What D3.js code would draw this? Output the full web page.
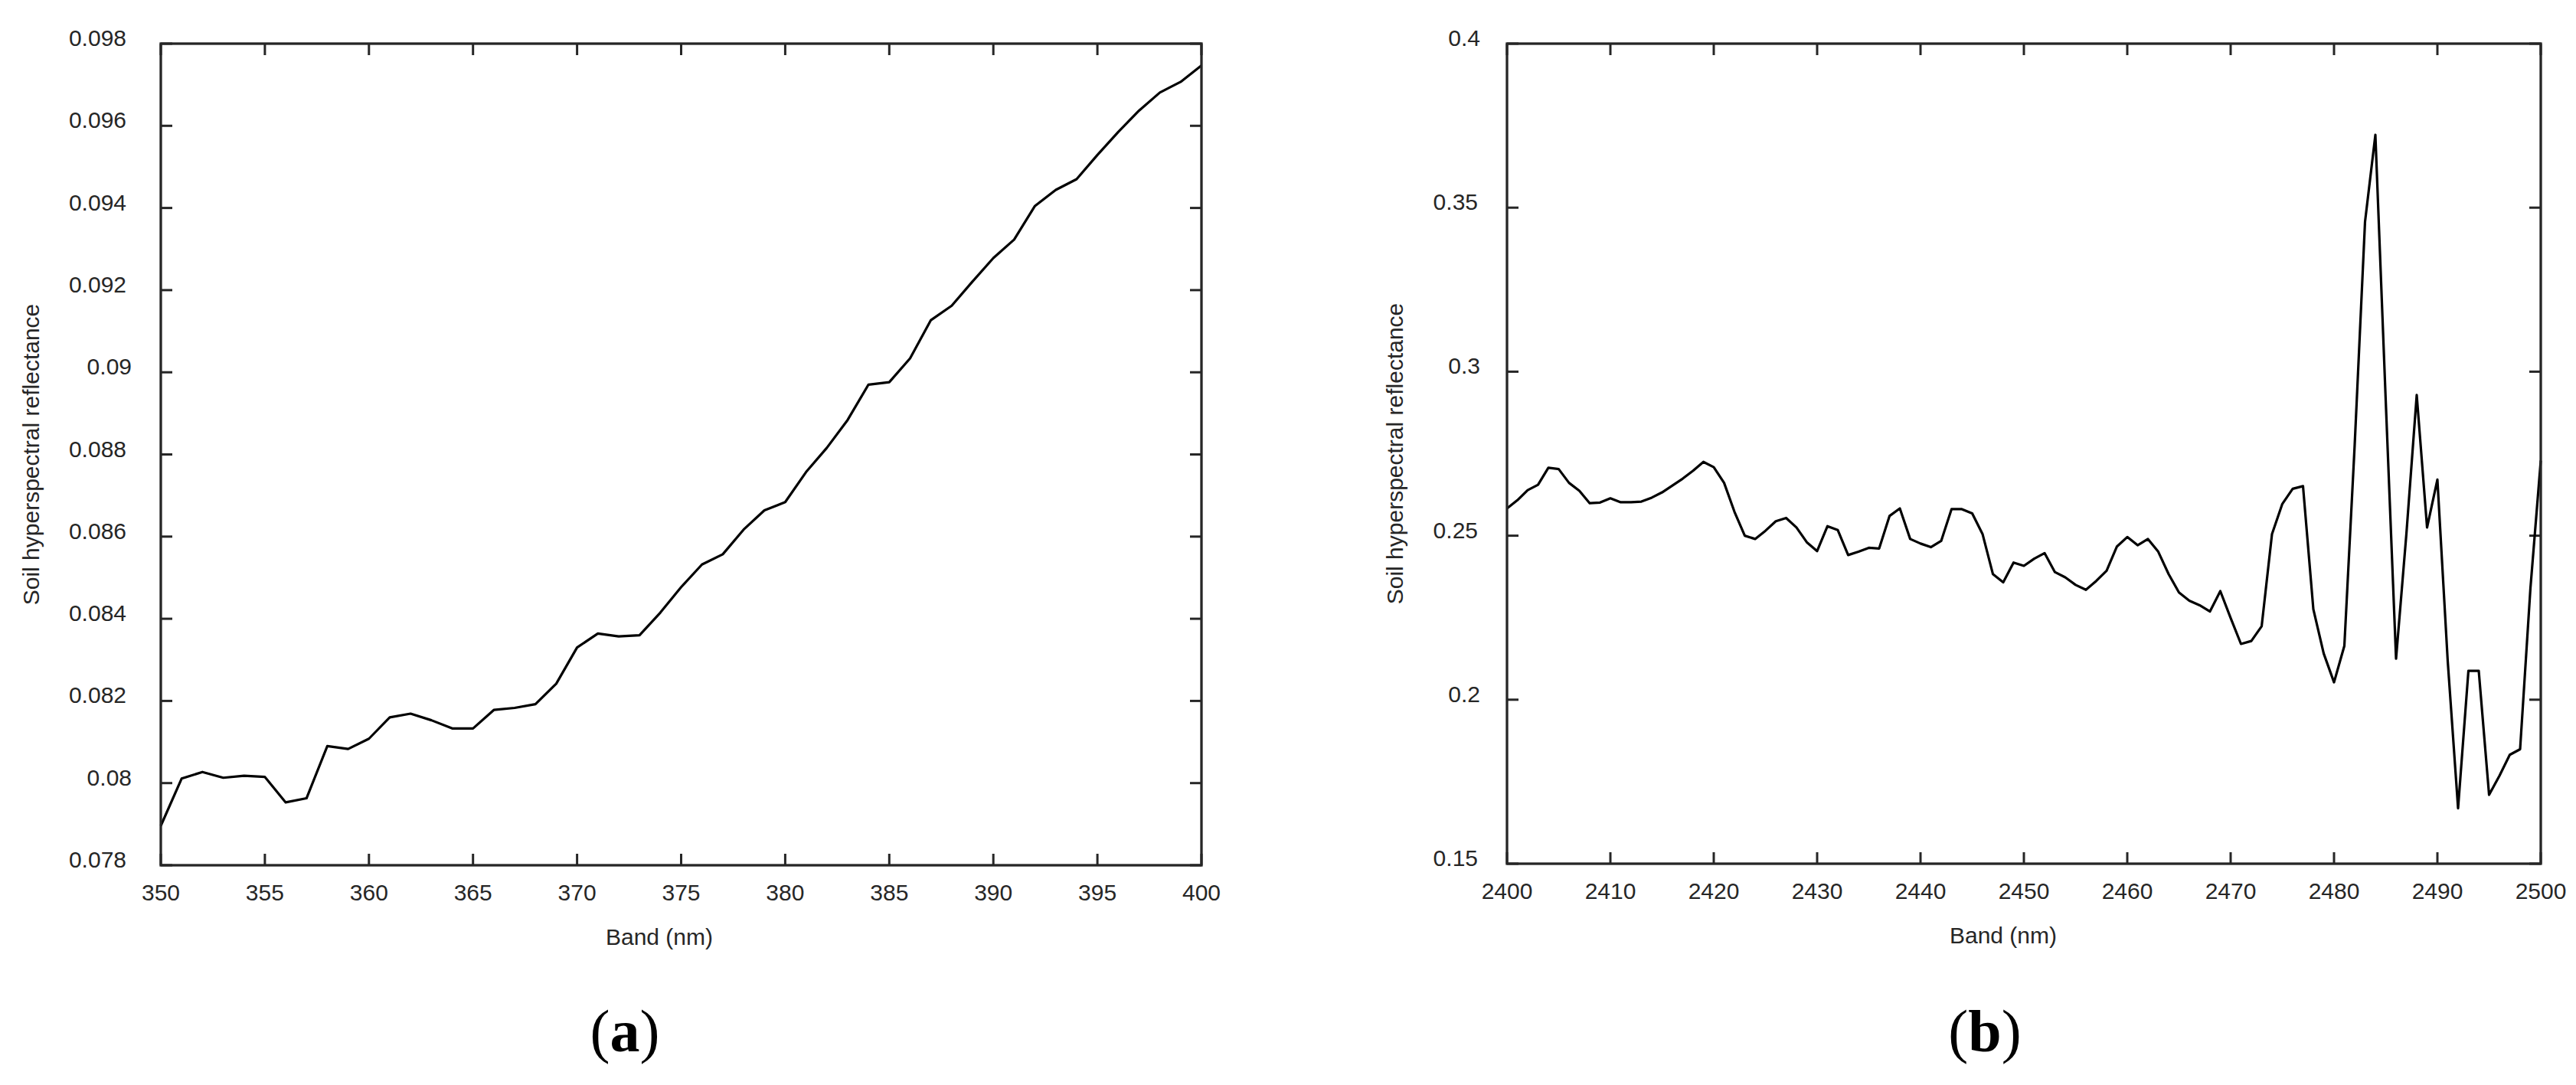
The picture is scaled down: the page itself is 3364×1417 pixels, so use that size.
<!DOCTYPE html>
<html>
<head>
<meta charset="utf-8">
<script src="https://cdn.jsdelivr.net/npm/d3@7"></script>
<style>
  html, body { margin: 0; padding: 0; background: #fff; }
  svg { display: block; }
  text { font-family: "Liberation Sans", Arial, sans-serif; fill: #262626; }
</style>
</head>
<body>
<svg id="chart" width="3364" height="1417"></svg>
<script>
// ---------- Data ----------
const bandsA = d3.range(350, 401, 1);
const reflA = [
  0.07896, 0.08011, 0.08027, 0.08013, 0.08018, 0.08015, 0.07953, 0.07963, 0.08090, 0.08083,
  0.08108, 0.08160, 0.08169, 0.08153, 0.08133, 0.08133, 0.08178, 0.08183, 0.08192, 0.08242,
  0.08330, 0.08364, 0.08357, 0.08360, 0.08415, 0.08477, 0.08532, 0.08557, 0.08617, 0.08664,
  0.08684, 0.08757, 0.08816, 0.08884, 0.08970, 0.08976, 0.09034, 0.09127, 0.09162, 0.09221,
  0.09278, 0.09323, 0.09405, 0.09444, 0.09470, 0.09529, 0.09585, 0.09637, 0.09681, 0.09707,
  0.09747
];
const xTicksA = [350, 355, 360, 365, 370, 375, 380, 385, 390, 395, 400];
const yTicksA = [0.078, 0.08, 0.082, 0.084, 0.086, 0.088, 0.09, 0.092, 0.094, 0.096, 0.098];

const bandsB = d3.range(2400, 2501, 1);
const reflB = [
  0.2583, 0.2608, 0.2639, 0.2655, 0.2707, 0.2703, 0.2661, 0.2637, 0.2599, 0.2601,
  0.2614, 0.2602, 0.2602, 0.2604, 0.2616, 0.2632, 0.2653, 0.2674, 0.2698, 0.2725,
  0.2709, 0.2661, 0.2573, 0.2500, 0.2490, 0.2515, 0.2544, 0.2554, 0.2525, 0.2480,
  0.2453, 0.2529, 0.2517, 0.2441, 0.2451, 0.2463, 0.2461, 0.2560, 0.2583, 0.2490,
  0.2476, 0.2465, 0.2484, 0.2581, 0.2581, 0.2568, 0.2505, 0.2383, 0.2358, 0.2418,
  0.2408, 0.2430, 0.2447, 0.2389, 0.2373, 0.2350, 0.2335, 0.2362, 0.2393, 0.2467,
  0.2496, 0.2471, 0.2490, 0.2451, 0.2383, 0.2327, 0.2302, 0.2288, 0.2269, 0.2331,
  0.2249, 0.2170, 0.2179, 0.2224, 0.2505, 0.2597, 0.2643, 0.2651, 0.2276, 0.2141,
  0.2053, 0.2164, 0.2777, 0.3457, 0.3722, 0.2913, 0.2125, 0.2505, 0.2929, 0.2525,
  0.2671, 0.2117, 0.1669, 0.2088, 0.2088, 0.1710, 0.1768, 0.1832, 0.1849, 0.2340,
  0.2729
];
const xTicksB = [2400, 2410, 2420, 2430, 2440, 2450, 2460, 2470, 2480, 2490, 2500];
const yTicksB = [0.15, 0.2, 0.25, 0.3, 0.35, 0.4];

const xLabel = "Band (nm)";
const yLabel = "Soil hyperspectral reflectance";
const panelLetters = ["a", "b"];

// ---------- Drawing ----------
const svg = d3.select("#chart");
const axisColor = "#262626";

function panel(cfg) {
  const { left, right, top, bottom, xs, ys, xDomain, yDomain, xTicks, yTicks,
          labelRight, shortShift, ylabelX, xlabelX, panelX, letter } = cfg;
  const x = d3.scaleLinear().domain(xDomain).range([left, right]);
  const y = d3.scaleLinear().domain(yDomain).range([bottom, top]);
  const g = svg.append("g");
  const tickLen = 15;

  // tick marks (inward, all four sides)
  const tg = g.append("g").attr("stroke", axisColor).attr("stroke-width", 3);
  xTicks.forEach(t => {
    tg.append("line").attr("x1", x(t)).attr("x2", x(t)).attr("y1", bottom).attr("y2", bottom - tickLen);
    tg.append("line").attr("x1", x(t)).attr("x2", x(t)).attr("y1", top).attr("y2", top + tickLen);
  });
  yTicks.forEach(t => {
    tg.append("line").attr("x1", left).attr("x2", left + tickLen).attr("y1", y(t)).attr("y2", y(t));
    tg.append("line").attr("x1", right).attr("x2", right - tickLen).attr("y1", y(t)).attr("y2", y(t));
  });

  // data line
  const line = d3.line().x((d, i) => x(xs[i])).y(d => y(d));
  g.append("path").datum(ys)
    .attr("fill", "none").attr("stroke", "#000").attr("stroke-width", 3.2)
    .attr("stroke-linejoin", "round")
    .attr("d", line);

  // box
  g.append("rect").attr("x", left).attr("y", top)
    .attr("width", right - left).attr("height", bottom - top)
    .attr("fill", "none").attr("stroke", axisColor).attr("stroke-width", 3.3);

  // tick labels
  xTicks.forEach(t => {
    g.append("text").attr("x", x(t)).attr("y", bottom + 46)
      .attr("text-anchor", "middle").attr("font-size", 30).text(String(t));
  });
  const maxLen = d3.max(yTicks, t => String(+t.toFixed(4)).length);
  yTicks.forEach(t => {
    const s = String(+t.toFixed(4));
    const shift = s.length < maxLen ? shortShift : 0;
    g.append("text").attr("x", labelRight + shift).attr("y", y(t) + 3)
      .attr("text-anchor", "end").attr("font-size", 30).text(s);
  });

  // axis labels
  g.append("text").attr("x", xlabelX).attr("y", bottom + 104)
    .attr("text-anchor", "middle").attr("font-size", 30).text(xLabel);
  g.append("text")
    .attr("transform", `translate(${ylabelX},${(top + bottom) / 2}) rotate(-90)`)
    .attr("text-anchor", "middle").attr("font-size", 30).text(yLabel);

  // panel label
  const pl = g.append("text").attr("x", panelX).attr("y", 1373)
    .attr("text-anchor", "middle").attr("font-size", 78)
    .style("font-family", "'Liberation Serif', 'Times New Roman', serif").style("fill", "#000");
  pl.append("tspan").text("(");
  pl.append("tspan").attr("font-weight", "bold").text(letter);
  pl.append("tspan").text(")");
}

panel({
  left: 210, right: 1569, top: 57, bottom: 1130,
  xs: bandsA, ys: reflA, xDomain: [350, 400], yDomain: [0.078, 0.098],
  xTicks: xTicksA, yTicks: yTicksA, labelRight: 165, shortShift: 7, ylabelX: 51,
  xlabelX: 861, panelX: 816, letter: panelLetters[0]
});

panel({
  left: 1968, right: 3318, top: 57, bottom: 1128,
  xs: bandsB, ys: reflB, xDomain: [2400, 2500], yDomain: [0.15, 0.4],
  xTicks: xTicksB, yTicks: yTicksB, labelRight: 1930, shortShift: 3, ylabelX: 1832,
  xlabelX: 2616, panelX: 2592, letter: panelLetters[1]
});
</script>
</body>
</html>
